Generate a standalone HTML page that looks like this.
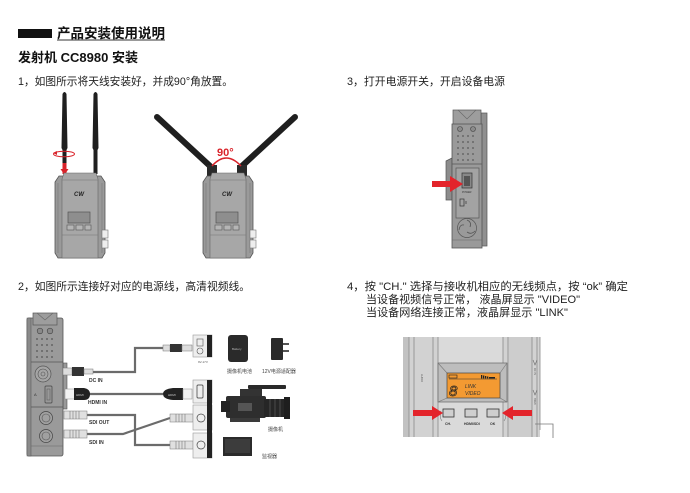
<!DOCTYPE html>
<html><head><meta charset="utf-8"><style>
html,body{margin:0;padding:0;background:#fff;}
svg{display:block;}
text{font-family:"Liberation Sans","Noto Sans CJK SC",sans-serif;}
</style></head><body>
<svg width="690" height="493" viewBox="0 0 690 493" xmlns="http://www.w3.org/2000/svg">
<rect width="690" height="493" fill="#fff"/>

<!-- Headings -->
<rect x="18" y="29" width="34" height="9" fill="#111"/>
<text x="57" y="38" font-size="13.5" font-weight="bold" fill="#111" textLength="108" lengthAdjust="spacingAndGlyphs">产品安装使用说明</text>
<line x1="57" y1="40" x2="165" y2="40" stroke="#333" stroke-width="1"/>
<text x="18" y="62" font-size="13" font-weight="bold" fill="#111" textLength="120" lengthAdjust="spacingAndGlyphs">发射机 CC8980 安装</text>
<text x="18" y="85" font-size="11" fill="#222" textLength="215" lengthAdjust="spacingAndGlyphs">1，如图所示将天线安装好，并成90°角放置。</text>
<text x="347" y="85" font-size="11" fill="#222" textLength="158" lengthAdjust="spacingAndGlyphs">3，打开电源开关，开启设备电源</text>
<text x="18" y="290" font-size="11" fill="#222" textLength="232" lengthAdjust="spacingAndGlyphs">2，如图所示连接好对应的电源线，高清视频线。</text>
<text x="347" y="290" font-size="11" fill="#222" textLength="281" lengthAdjust="spacingAndGlyphs">4，按 "CH." 选择与接收机相应的无线频点，按 “ok” 确定</text>
<text x="366" y="303" font-size="11" fill="#222" textLength="214" lengthAdjust="spacingAndGlyphs">当设备视频信号正常， 液晶屏显示 "VIDEO"</text>
<text x="366" y="316" font-size="11" fill="#222" textLength="202" lengthAdjust="spacingAndGlyphs">当设备网络连接正常，液晶屏显示 "LINK"</text>

<!-- ===== Device 1 antennas ===== -->
<path d="M62.5,94 Q64.5,90 66.5,94 L67.5,148 L66.5,150 L66.5,174 L62.5,174 L62.5,150 L61.5,148 Z" fill="#1f1f1f"/>
<path d="M93.5,94 Q95.5,90 97.5,94 L98.5,148 L97.5,150 L97.5,174 L93.5,174 L93.5,150 L92.5,148 Z" fill="#1f1f1f"/>
<rect x="62.5" y="163" width="4" height="11" fill="#d9232a"/>
<polygon points="60.5,169 68.5,169 64.5,175" fill="#d9232a"/>
<ellipse cx="64" cy="154" rx="10.5" ry="2.8" fill="none" stroke="#d9232a" stroke-width="1"/>
<polygon points="53,153 57,151 57,155" fill="#d9232a"/>

<!-- Device 1 body -->
<g transform="translate(55,173)">
 <path d="M4,3 L46,3 L50,9 L50,80 L47,85 L3,85 L0,80 L0,9 Z" fill="#9a9a9a" stroke="#555" stroke-width="0.8"/>
 <path d="M9,0 L41,0 L43,6 L43,85 L7,85 L7,6 Z" fill="#a7a7a7" stroke="#666" stroke-width="0.6"/>
 <line x1="3" y1="10" x2="3" y2="80" stroke="#777" stroke-width="0.6"/>
 <line x1="47" y1="10" x2="47" y2="80" stroke="#777" stroke-width="0.6"/>
 <line x1="7" y1="7" x2="43" y2="7" stroke="#777" stroke-width="0.6"/>
 <text x="19" y="23" font-size="6" font-style="italic" font-weight="bold" fill="#222">CW</text>
 <rect x="13" y="39" width="22" height="11" fill="#8e8e8e" stroke="#555" stroke-width="0.7"/>
 <rect x="12" y="52" width="7" height="5" fill="#b5b5b5" stroke="#555" stroke-width="0.6"/>
 <rect x="21" y="52" width="7" height="5" fill="#b5b5b5" stroke="#555" stroke-width="0.6"/>
 <rect x="30" y="52" width="6" height="5" fill="#b5b5b5" stroke="#555" stroke-width="0.6"/>
 <line x1="7" y1="62" x2="43" y2="62" stroke="#777" stroke-width="0.6"/>
 <rect x="47" y="57" width="6" height="8" fill="#eee" stroke="#777" stroke-width="0.6"/>
 <rect x="47" y="67" width="6" height="8" fill="#eee" stroke="#777" stroke-width="0.6"/>
</g>

<!-- ===== Device 2 antennas ===== -->
<line x1="157" y1="117" x2="210" y2="166" stroke="#1f1f1f" stroke-width="6" stroke-linecap="round"/>
<line x1="295" y1="117" x2="242" y2="166" stroke="#1f1f1f" stroke-width="6" stroke-linecap="round"/>
<rect x="207" y="165" width="10" height="11" fill="#2a2a2a"/>
<rect x="237" y="165" width="10" height="11" fill="#2a2a2a"/>
<path d="M212,166 Q226,150 241,166" fill="none" stroke="#d9232a" stroke-width="1.5"/>
<text x="217" y="156" font-size="11" font-weight="bold" fill="#d9232a">90°</text>

<!-- Device 2 body -->
<g transform="translate(203,173)">
 <path d="M4,3 L46,3 L50,9 L50,80 L47,85 L3,85 L0,80 L0,9 Z" fill="#9a9a9a" stroke="#555" stroke-width="0.8"/>
 <path d="M9,0 L41,0 L43,6 L43,85 L7,85 L7,6 Z" fill="#a7a7a7" stroke="#666" stroke-width="0.6"/>
 <line x1="3" y1="10" x2="3" y2="80" stroke="#777" stroke-width="0.6"/>
 <line x1="47" y1="10" x2="47" y2="80" stroke="#777" stroke-width="0.6"/>
 <line x1="7" y1="7" x2="43" y2="7" stroke="#777" stroke-width="0.6"/>
 <text x="19" y="23" font-size="6" font-style="italic" font-weight="bold" fill="#222">CW</text>
 <rect x="13" y="39" width="22" height="11" fill="#8e8e8e" stroke="#555" stroke-width="0.7"/>
 <rect x="12" y="52" width="7" height="5" fill="#b5b5b5" stroke="#555" stroke-width="0.6"/>
 <rect x="21" y="52" width="7" height="5" fill="#b5b5b5" stroke="#555" stroke-width="0.6"/>
 <rect x="30" y="52" width="6" height="5" fill="#b5b5b5" stroke="#555" stroke-width="0.6"/>
 <line x1="7" y1="62" x2="43" y2="62" stroke="#777" stroke-width="0.6"/>
 <rect x="47" y="57" width="6" height="8" fill="#eee" stroke="#777" stroke-width="0.6"/>
 <rect x="47" y="67" width="6" height="8" fill="#eee" stroke="#777" stroke-width="0.6"/>
</g>

<!-- ===== Device 3 (side, power) ===== -->
<polygon points="446,161 452,158 452,200 446,200" fill="#8c8c8c" stroke="#555" stroke-width="0.7"/>
<rect x="481" y="113" width="6" height="133" fill="#909090" stroke="#555" stroke-width="0.7"/>
<rect x="453" y="110" width="28" height="15" fill="#9d9d9d" stroke="#555" stroke-width="0.7"/>
<polyline points="458,110 467,119 476,110" fill="none" stroke="#666" stroke-width="0.6"/>
<rect x="452" y="124" width="30" height="124" fill="#9a9a9a" stroke="#555" stroke-width="0.8"/>
<circle cx="460" cy="129" r="2.5" fill="#8a8a8a" stroke="#444" stroke-width="0.6"/>
<circle cx="473" cy="129" r="2.5" fill="#8a8a8a" stroke="#444" stroke-width="0.6"/>
<g fill="#5a5a5a">
 <circle cx="458" cy="136" r="0.9"/><circle cx="463" cy="136" r="0.9"/><circle cx="468" cy="136" r="0.9"/><circle cx="473" cy="136" r="0.9"/>
 <circle cx="458" cy="142" r="0.9"/><circle cx="463" cy="142" r="0.9"/><circle cx="468" cy="142" r="0.9"/><circle cx="473" cy="142" r="0.9"/>
 <circle cx="458" cy="148" r="0.9"/><circle cx="463" cy="148" r="0.9"/><circle cx="468" cy="148" r="0.9"/><circle cx="473" cy="148" r="0.9"/>
 <circle cx="458" cy="154" r="0.9"/><circle cx="463" cy="154" r="0.9"/><circle cx="468" cy="154" r="0.9"/><circle cx="473" cy="154" r="0.9"/>
 <circle cx="458" cy="160" r="0.9"/><circle cx="463" cy="160" r="0.9"/><circle cx="468" cy="160" r="0.9"/><circle cx="473" cy="160" r="0.9"/>
</g>
<line x1="452" y1="164" x2="482" y2="164" stroke="#555" stroke-width="0.7"/>
<rect x="456" y="168" width="23" height="50" fill="#a3a3a3" stroke="#555" stroke-width="0.7"/>
<rect x="462" y="173" width="10" height="15" fill="#888" stroke="#333" stroke-width="0.7"/>
<rect x="464" y="176" width="6" height="10" fill="#555"/>
<text x="462" y="193" font-size="2.5" fill="#333">POWER</text>
<rect x="460" y="199" width="4" height="7" fill="none" stroke="#333" stroke-width="0.7"/>
<line x1="466" y1="201" x2="466" y2="204" stroke="#333" stroke-width="0.7"/>
<circle cx="467" cy="228" r="9.5" fill="#9a9a9a" stroke="#555" stroke-width="0.7"/>
<path d="M467,220 Q472,222 470,227 M475,231 Q471,235 467,232 M459,230 Q460,224 464,225" fill="none" stroke="#555" stroke-width="0.8"/>
<line x1="452" y1="240" x2="482" y2="240" stroke="#666" stroke-width="0.6"/>
<polygon points="432,181 450,181 450,176 463,184 450,192 450,187 432,187" fill="#e3242b"/>

<!-- ===== Section 2: connection diagram ===== -->
<!-- device -->
<rect x="63" y="363" width="4" height="46" fill="#999" stroke="#555" stroke-width="0.6"/>
<rect x="27" y="318" width="36" height="138" rx="2" fill="#9a9a9a" stroke="#555" stroke-width="0.8"/>
<rect x="27" y="318" width="4" height="138" fill="#8a8a8a" stroke="#555" stroke-width="0.5"/>
<rect x="33" y="313" width="24" height="12" fill="#9d9d9d" stroke="#555" stroke-width="0.7"/>
<polyline points="37,313 45,320 53,313" fill="none" stroke="#666" stroke-width="0.6"/>
<circle cx="40" cy="331" r="2.8" fill="#8a8a8a" stroke="#444" stroke-width="0.6"/>
<circle cx="50" cy="331" r="2.8" fill="#8a8a8a" stroke="#444" stroke-width="0.6"/>
<g fill="#555">
 <circle cx="37" cy="339" r="0.9"/><circle cx="42" cy="339" r="0.9"/><circle cx="47" cy="339" r="0.9"/><circle cx="52" cy="339" r="0.9"/>
 <circle cx="37" cy="345" r="0.9"/><circle cx="42" cy="345" r="0.9"/><circle cx="47" cy="345" r="0.9"/><circle cx="52" cy="345" r="0.9"/>
 <circle cx="37" cy="351" r="0.9"/><circle cx="42" cy="351" r="0.9"/><circle cx="47" cy="351" r="0.9"/><circle cx="52" cy="351" r="0.9"/>
 <circle cx="37" cy="357" r="0.9"/><circle cx="42" cy="357" r="0.9"/><circle cx="47" cy="357" r="0.9"/><circle cx="52" cy="357" r="0.9"/>
</g>
<line x1="31" y1="362" x2="63" y2="362" stroke="#555" stroke-width="0.7"/>
<circle cx="43" cy="374" r="8" fill="#a5a5a5" stroke="#555" stroke-width="0.7"/>
<circle cx="43" cy="374" r="5" fill="none" stroke="#555" stroke-width="0.6"/>
<circle cx="43" cy="374" r="2" fill="none" stroke="#555" stroke-width="0.6"/>
<rect x="45" y="386" width="7" height="17" rx="1" fill="#999" stroke="#444" stroke-width="0.7"/>
<rect x="47" y="389" width="3" height="11" fill="none" stroke="#555" stroke-width="0.5"/>
<text x="34" y="396" font-size="4" fill="#333">A</text>
<line x1="31" y1="407" x2="63" y2="407" stroke="#555" stroke-width="0.7"/>
<circle cx="46" cy="418" r="6.5" fill="#a0a0a0" stroke="#444" stroke-width="0.7"/>
<circle cx="46" cy="418" r="4" fill="none" stroke="#555" stroke-width="0.6"/>
<circle cx="46" cy="436" r="6.5" fill="#a0a0a0" stroke="#444" stroke-width="0.7"/>
<circle cx="46" cy="436" r="4" fill="none" stroke="#555" stroke-width="0.6"/>
<line x1="31" y1="446" x2="63" y2="446" stroke="#666" stroke-width="0.5"/>

<!-- cables -->
<g fill="none" stroke="#6b6b6b" stroke-width="2.2">
 <polyline points="93,372 135,372 135,348 163,348"/>
 <polyline points="88,394 163,394"/>
 <polyline points="87,415 135,415 135,445 170,445"/>
 <polyline points="87,434 123,434 170,418"/>
</g>

<!-- left connectors -->
<rect x="63" y="368" width="9" height="7" fill="#ddd" stroke="#777" stroke-width="0.5"/>
<rect x="72" y="367" width="12" height="9" fill="#333"/>
<rect x="84" y="369" width="9" height="5" fill="#ddd" stroke="#777" stroke-width="0.5"/>
<rect x="65" y="389" width="10" height="10" fill="#f2f2f2" stroke="#888" stroke-width="0.5"/>
<path d="M74,388 L84,388 Q90,389 90,394 Q90,400 84,400 L74,400 Z" fill="#222"/>
<text x="76" y="396" font-size="3" fill="#ccc">HDMI</text>
<rect x="64" y="411" width="23" height="8" fill="#e0e0e0" stroke="#777" stroke-width="0.5"/>
<g stroke="#777" stroke-width="0.6"><line x1="70" y1="411" x2="70" y2="419"/><line x1="73" y1="411" x2="73" y2="419"/><line x1="76" y1="411" x2="76" y2="419"/><line x1="79" y1="411" x2="79" y2="419"/></g>
<rect x="64" y="430" width="23" height="8" fill="#e0e0e0" stroke="#777" stroke-width="0.5"/>
<g stroke="#777" stroke-width="0.6"><line x1="70" y1="430" x2="70" y2="438"/><line x1="73" y1="430" x2="73" y2="438"/><line x1="76" y1="430" x2="76" y2="438"/><line x1="79" y1="430" x2="79" y2="438"/></g>

<g font-size="5" font-weight="bold" fill="#333">
 <text x="89" y="382">DC IN</text>
 <text x="88" y="404">HDMI IN</text>
 <text x="89" y="424">SDI OUT</text>
 <text x="89" y="444">SDI IN</text>
</g>

<!-- right connectors -->
<rect x="163" y="345" width="7" height="6" fill="#ddd" stroke="#777" stroke-width="0.5"/>
<rect x="170" y="344" width="12" height="8" fill="#333"/>
<rect x="182" y="345" width="10" height="6" fill="#ddd" stroke="#777" stroke-width="0.5"/>
<path d="M183,388 L173,388 Q163,389 163,394 Q163,399 173,400 L183,400 Z" fill="#222"/>
<text x="168" y="396" font-size="3" fill="#ccc">HDMI</text>
<rect x="183" y="389" width="9" height="10" fill="#f2f2f2" stroke="#888" stroke-width="0.5"/>
<rect x="170" y="414" width="23" height="8" fill="#e0e0e0" stroke="#777" stroke-width="0.5"/>
<g stroke="#777" stroke-width="0.6"><line x1="176" y1="414" x2="176" y2="422"/><line x1="179" y1="414" x2="179" y2="422"/><line x1="182" y1="414" x2="182" y2="422"/><line x1="185" y1="414" x2="185" y2="422"/></g>
<rect x="170" y="441" width="23" height="8" fill="#e0e0e0" stroke="#777" stroke-width="0.5"/>
<g stroke="#777" stroke-width="0.6"><line x1="176" y1="441" x2="176" y2="449"/><line x1="179" y1="441" x2="179" y2="449"/><line x1="182" y1="441" x2="182" y2="449"/><line x1="185" y1="441" x2="185" y2="449"/></g>

<!-- right panels -->
<rect x="193" y="335" width="19" height="22" fill="#eee" stroke="#999" stroke-width="0.6"/>
<rect x="207" y="335" width="5" height="22" fill="#222"/>
<rect x="197" y="339" width="6" height="7" fill="none" stroke="#555" stroke-width="0.6"/>
<circle cx="200" cy="351" r="3" fill="none" stroke="#555" stroke-width="0.6"/>
<text x="198" y="363" font-size="3" fill="#555">9V-17V</text>
<rect x="193" y="380" width="19" height="23" fill="#eee" stroke="#999" stroke-width="0.6"/>
<rect x="193" y="405" width="19" height="25" fill="#eee" stroke="#999" stroke-width="0.6"/>
<rect x="193" y="433" width="19" height="25" fill="#eee" stroke="#999" stroke-width="0.6"/>
<rect x="207" y="380" width="5" height="78" fill="#222"/>
<rect x="197" y="385" width="6" height="13" rx="1" fill="none" stroke="#333" stroke-width="0.7"/>
<circle cx="201" cy="418" r="4" fill="none" stroke="#444" stroke-width="0.7"/>
<circle cx="201" cy="445" r="4" fill="none" stroke="#444" stroke-width="0.7"/>

<!-- battery / adapter -->
<rect x="228" y="335" width="20" height="27" rx="3" fill="#2a2a2a"/>
<text x="232" y="350" font-size="3" fill="#bbb">Battery</text>
<rect x="271" y="338" width="12" height="22" rx="1" fill="#2a2a2a"/>
<rect x="283" y="343" width="6" height="2" fill="#555"/>
<rect x="283" y="350" width="6" height="2" fill="#555"/>
<g font-size="5" fill="#444">
 <text x="227" y="373">摄像机电池</text>
 <text x="262" y="373">12V电源适配器</text>
 <text x="268" y="431">摄像机</text>
 <text x="262" y="458">监视器</text>
</g>

<!-- camera -->
<rect x="248" y="385" width="38" height="4" rx="1" fill="#2a2a2a"/>
<rect x="240" y="389" width="22" height="7" fill="#333"/>
<rect x="226" y="396" width="40" height="22" rx="2" fill="#2e2e2e"/>
<rect x="221" y="401" width="9" height="11" fill="#222"/>
<rect x="264" y="399" width="22" height="18" fill="#262626"/>
<g stroke="#666" stroke-width="0.6"><line x1="270" y1="399" x2="270" y2="417"/><line x1="275" y1="399" x2="275" y2="417"/><line x1="280" y1="399" x2="280" y2="417"/></g>
<rect x="284" y="397" width="6" height="22" fill="#1e1e1e"/>
<rect x="238" y="403" width="14" height="8" fill="#555"/>
<rect x="230" y="418" width="30" height="4" fill="#3a3a3a"/>

<!-- monitor -->
<rect x="223" y="437" width="29" height="19" fill="#2b2b2b"/>
<rect x="225" y="439" width="25" height="14" fill="#3c3c3c"/>

<!-- ===== Section 4: LCD panel ===== -->
<rect x="403" y="337" width="137" height="100" fill="#d2d2d2"/>
<rect x="403" y="337" width="6" height="100" fill="#c2c2c2"/>
<rect x="438" y="337" width="65" height="100" fill="#dadada"/>
<rect x="509" y="337" width="23" height="100" fill="#cdcdcd"/>
<g stroke="#8a8a8a" stroke-width="0.8">
 <line x1="409" y1="337" x2="409" y2="437"/>
 <line x1="414" y1="337" x2="414" y2="437"/>
 <line x1="433" y1="337" x2="433" y2="437"/>
 <line x1="438" y1="337" x2="438" y2="437"/>
 <line x1="503" y1="337" x2="503" y2="437"/>
 <line x1="508" y1="337" x2="508" y2="437"/>
 <line x1="532" y1="337" x2="532" y2="437"/>
 <line x1="537" y1="337" x2="537" y2="437"/>
 <line x1="540" y1="337" x2="540" y2="430"/>
</g>
<text x="0" y="0" font-size="2.5" fill="#555" transform="translate(421,374) rotate(90)">AUDIO</text>
<polyline points="533,360 535,365 537,360" fill="none" stroke="#666" stroke-width="0.6"/>
<text x="0" y="0" font-size="2.5" fill="#555" transform="translate(534,368) rotate(90)">DC IN</text>
<polyline points="533,390 535,395 537,390" fill="none" stroke="#666" stroke-width="0.6"/>
<text x="0" y="0" font-size="2.5" fill="#555" transform="translate(534,398) rotate(90)">HDMI</text>
<polyline points="535,424 553,424 553,438" fill="none" stroke="#777" stroke-width="0.8"/>

<!-- bezel -->
<rect x="438" y="363" width="69" height="39" fill="#bdbdbd" stroke="#666" stroke-width="0.7"/>
<g stroke="#777" stroke-width="0.6">
 <line x1="438" y1="363" x2="447" y2="373"/><line x1="507" y1="363" x2="500" y2="373"/>
 <line x1="438" y1="402" x2="447" y2="398"/><line x1="507" y1="402" x2="500" y2="398"/>
</g>
<rect x="447" y="373" width="53" height="25" fill="#f39a32" stroke="#444" stroke-width="0.7"/>
<rect x="449" y="375" width="8" height="3" fill="none" stroke="#222" stroke-width="0.6"/>
<line x1="449" y1="379" x2="497" y2="379" stroke="#333" stroke-width="0.5"/>
<g fill="#222">
 <rect x="481" y="375" width="1.3" height="3.5"/><rect x="483" y="375.5" width="1.3" height="3"/><rect x="485" y="376" width="1.3" height="2.5"/><rect x="487" y="376.5" width="1.3" height="2"/><rect x="489" y="377" width="6" height="1.5"/>
</g>
<text x="449" y="396" font-size="15" font-style="italic" fill="none" stroke="#222" stroke-width="0.7">8</text>
<text x="465" y="388" font-size="5" font-style="italic" fill="#333">LINK</text>
<text x="465" y="395" font-size="5" font-style="italic" fill="#333">VIDEO</text>

<!-- buttons -->
<rect x="443" y="409" width="11" height="8" fill="#cfcfcf" stroke="#333" stroke-width="0.8"/>
<rect x="465" y="409" width="12" height="8" fill="#cfcfcf" stroke="#333" stroke-width="0.8"/>
<rect x="487" y="409" width="12" height="8" fill="#cfcfcf" stroke="#333" stroke-width="0.8"/>
<path d="M441,411 Q439,417 442,421 M505,411 Q507,417 504,421" fill="none" stroke="#777" stroke-width="0.6"/>
<g font-size="3.5" font-weight="bold" fill="#333">
 <text x="445" y="425">CH.</text>
 <text x="464" y="425">HDMI/SDI</text>
 <text x="490" y="425">OK</text>
</g>

<!-- red arrows -->
<polygon points="413,410 432,410 432,406 443,413 432,420 432,416 413,416" fill="#e3242b"/>
<polygon points="532,410 513,410 513,406 502,413 513,420 513,416 532,416" fill="#e3242b"/>

</svg>
</body></html>
